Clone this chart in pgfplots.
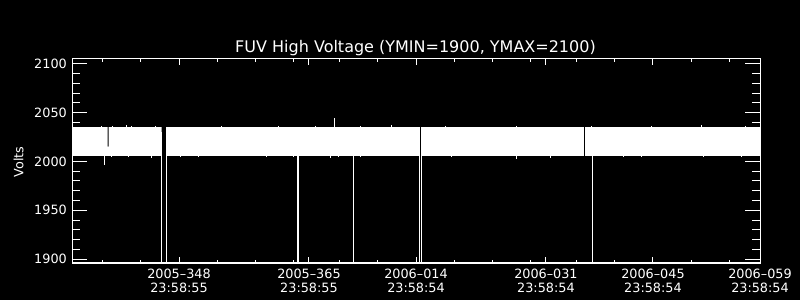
\documentclass[border=0pt]{standalone}
\usepackage{pgfplots}
\pgfplotsset{compat=1.18}
\usepackage{fontspec}
\setmainfont{DejaVu Sans}
\newcommand{\lblfont}{\fontsize{12.8}{14}\selectfont}
\begin{document}
\begin{tikzpicture}
\fill[black] (0,0) rectangle (800pt,300pt);
% ---------- data axis (y ticks) ----------
\begin{axis}[
  at={(72pt,37pt)}, anchor=south west,
  scale only axis, width=688pt, height=204pt,
  xmin=0, xmax=90, ymin=1896, ymax=2105,
  axis line style={white, line width=1pt},
  xtick=\empty,
  ytick={1900,1950,2000,2050,2100}, minor y tick num=4,
  yticklabels={{\lblfont 1900},{\lblfont 1950},{\lblfont 2000},{\lblfont 2050},{\lblfont 2100}},
  major tick length=15pt, minor tick length=8pt,
  every tick/.append style={white, line width=1pt},
  yticklabel style={white, font=\lblfont, inner sep=0pt, xshift=-5pt},
  unbounded coords=jump,
]
% band segments (envelope of the noisy voltage trace, days since 2005-334 23:58:55)
\addplot[fill=white, draw=none] coordinates {
 (0,2035.2) (4.65,2035.2) (4.66,2015.2) (4.78,2015.2) (4.79,2035.2) (11.74,2035.2)
 (11.74,2005.6) (0,2005.6)} -- cycle;
\addplot[fill=white, draw=none] coordinates {
 (12.27,2035.2) (45.50,2035.2) (45.50,2005.6) (12.27,2005.6)} -- cycle;
\addplot[fill=white, draw=none] coordinates {
 (45.63,2035.2) (66.92,2035.2) (66.92,2005.6) (45.63,2005.6)} -- cycle;
\addplot[fill=white, draw=none] coordinates {
 (67.05,2035.2) (90,2035.2) (90,2005.6) (67.05,2005.6)} -- cycle;
% small excursions above the band
\addplot[white, line width=0.8pt] coordinates {
 (3.84,2035) (3.84,2036.8) (nan,nan) (5.28,2035) (5.28,2036.6) (nan,nan)
 (7.15,2035) (7.15,2036.9) (nan,nan) (7.81,2035) (7.81,2036.5) (nan,nan)
 (10.86,2035) (10.86,2036.7) (nan,nan) (19.58,2035) (19.58,2036.8) (nan,nan)
 (26.99,2035) (26.99,2036.6) (nan,nan) (31.79,2035) (31.79,2036.7) (nan,nan)
 (37.68,2035) (37.68,2036.6) (nan,nan) (41.82,2035) (41.82,2036.9) (nan,nan)
 (48.80,2035) (48.80,2036.7) (nan,nan) (58.17,2035) (58.17,2036.5) (nan,nan)
 (67.98,2035) (67.98,2036.8) (nan,nan) (75.84,2035) (75.84,2036.6) (nan,nan)
 (82.38,2035) (82.38,2036.9) (nan,nan) (88.05,2035) (88.05,2036.7)};
% small excursions below the band
\addplot[white, line width=0.8pt] coordinates {
 (5.19,2006) (5.19,2004.1) (nan,nan) (7.37,2006) (7.37,2004.3) (nan,nan)
 (10.42,2006) (10.42,2004.0) (nan,nan) (14.13,2006) (14.13,2004.2) (nan,nan)
 (16.53,2006) (16.53,2004.4) (nan,nan) (25.47,2006) (25.47,2004.1) (nan,nan)
 (28.95,2006) (28.95,2004.3) (nan,nan) (33.75,2006) (33.75,2004.0) (nan,nan)
 (34.84,2006) (34.84,2004.2) (nan,nan) (37.68,2006) (37.68,2004.3) (nan,nan)
 (49.67,2006) (49.67,2004.1) (nan,nan) (62.53,2006) (62.53,2004.0) (nan,nan)
 (72.13,2006) (72.13,2004.2) (nan,nan) (74.53,2006) (74.53,2004.3) (nan,nan)
 (82.59,2006) (82.59,2004.1) (nan,nan) (87.61,2006) (87.61,2004.2)};
% drop-outs to 0 V
\addplot[white, line width=1pt] coordinates {(11.68,2030) (11.68,0)};
\addplot[white, line width=1pt] coordinates {(12.34,2032) (12.34,0)};
\addplot[white, line width=2pt] coordinates {(29.53,2035) (29.53,0)};
\addplot[white, line width=1pt] coordinates {(36.80,2035) (36.80,0)};
\addplot[white, line width=1pt] coordinates {(45.43,2035) (45.43,0)};
\addplot[white, line width=1pt] coordinates {(45.69,2035) (45.69,0)};
\addplot[white, line width=1pt] coordinates {(68.07,2035) (68.07,0)};
% isolated spikes
\addplot[white, line width=1pt] coordinates {(4.19,2006) (4.19,1996.4)};
\addplot[white, line width=1pt] coordinates {(34.40,2035) (34.40,2044.6)};
\addplot[white, line width=1pt] coordinates {(58.17,2005.6) (58.17,2002.9)};
\end{axis}
% ---------- x tick axis ----------
\begin{axis}[
  at={(72pt,37pt)}, anchor=south west,
  scale only axis, width=688pt, height=204pt,
  xmin=0, xmax=90, ymin=1896, ymax=2105,
  axis line style={white, line width=1pt},
  ytick=\empty,
  xtick={14,31,45,62,76,90},
  minor xtick={4,9,19,24,29,35,40,50,55,60,66,71,81,86},
  xticklabels={{2005--348\\23:58:55},{2005--365\\23:58:55},{2006--014\\23:58:54},
               {2006--031\\23:58:54},{2006--045\\23:58:54},{2006--059\\23:58:54}},
  major tick length=6pt, minor tick length=3pt,
  every tick/.append style={white, line width=1pt},
  xticklabel style={white, font=\lblfont, align=center, inner sep=0pt, yshift=-6pt},
]
\end{axis}
\node[white, anchor=base, font=\fontsize{16}{18}\selectfont] at (415.5pt,247.7pt)
  {FUV High Voltage (YMIN=1900, YMAX=2100)};
\node[white, rotate=90, font=\lblfont] at (18.5pt,138pt) {Volts};
\end{tikzpicture}
\end{document}
